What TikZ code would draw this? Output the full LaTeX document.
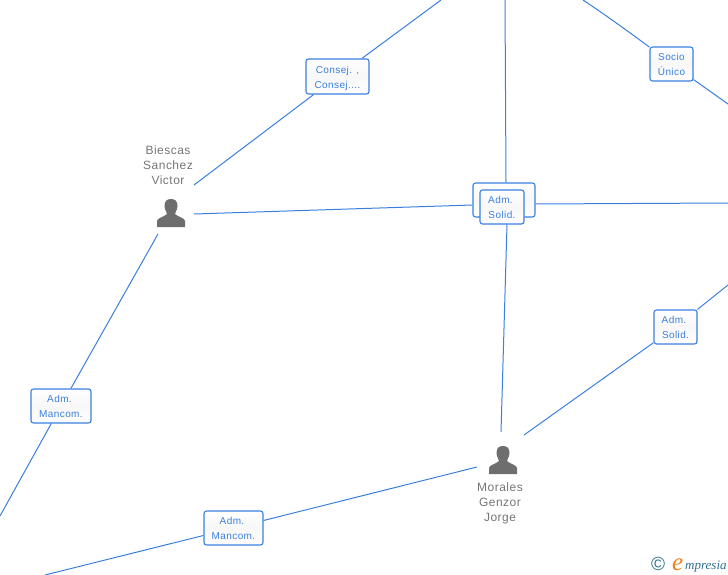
\documentclass[tikz,border=0pt]{standalone}
\usepackage{fontspec}
\setmainfont{Liberation Sans}[LetterSpace=4]
\newfontfamily\logofont{Liberation Serif}[Ligatures=NoCommon]
\definecolor{linkblue}{HTML}{3A7FE0}
\definecolor{namegray}{HTML}{757575}
\definecolor{icongray}{HTML}{6E6E6E}
\definecolor{logoteal}{HTML}{2F6F8F}
\definecolor{logoorange}{HTML}{F0801E}
\tikzset{
	link/.style={draw=linkblue,line width=1pt},
	rolebox/.style={draw=linkblue,line width=1.1pt,rounded corners=2.5pt,top color=white,bottom color=white,middle color=black!3,text=linkblue,align=center,inner sep=0pt,font=\fontsize{10}{15}\selectfont},
	personname/.style={text=namegray,align=center,inner sep=0pt,font=\fontsize{12}{15}\selectfont},
	person/.pic={
		\fill[icongray] (-14,14)--(-14,8) .. controls (-14,5) and (-7,4) .. (-4,1)
		.. controls (-4,-1) and (-6.5,-3) .. (-6.5,-7) .. controls (-6.5,-12) and (-4,-14) .. (0,-14)
		.. controls (4,-14) and (6.5,-12) .. (6.5,-7) .. controls (6.5,-3) and (4,-1) .. (4,1)
		.. controls (7,4) and (14,5) .. (14,8)--(14,14)--cycle;
	}
}
\def\adm{Adm.\kern3pt}
\begin{document}
\begin{tikzpicture}[x=1pt,y=-1pt,line join=round]
	\useasboundingbox (0,0) rectangle (728,575);
	% free ends
	\coordinate (topA) at (441,0);
	\coordinate (topB) at (505,0);
	\coordinate (topC) at (583,0);
	\coordinate (rightA) at (728,104);
	\coordinate (rightB) at (728,203);
	\coordinate (rightC) at (728,285);
	\coordinate (leftA) at (0,516);
	\coordinate (bottomA) at (45,575);
	\coordinate (biescasNE) at (194,185);
	\coordinate (biescasE) at (194,214);
	\coordinate (biescasS) at (158,234);
	\coordinate (moralesN) at (501,432);
	\coordinate (moralesNE) at (524,435);
	\coordinate (moralesW) at (477,467);
	% persons
	\pic at (171,213) {person};
	\pic at (503,460) {person};
	\node[personname] (biescas) at (168,165) {Biescas\\Sanchez\\Victor};
	\node[personname] (morales) at (500,503) {Morales\\Genzor\\Jorge};
	% roles
	\node[rolebox,minimum width=63pt,minimum height=35pt,text depth=0pt] (consej) at (337.5,76.5) {\rule{0pt}{9.5pt}Consej. ,\\Consej....};
	\node[rolebox,minimum width=43pt,minimum height=34pt] (socio) at (671.5,64) {Socio\\Único};
	\node[rolebox,minimum width=62pt,minimum height=34pt] (solidback) at (504,200) {};
	\node[rolebox,minimum width=44pt,minimum height=34pt] (solidfront) at (502,207) {\adm\\Solid.};
	\node[rolebox,minimum width=43pt,minimum height=34pt] (solidright) at (675.5,327) {\adm\\Solid.};
	\node[rolebox,minimum width=60pt,minimum height=34pt] (mancomleft) at (61,406) {\adm\\Mancom.};
	\node[rolebox,minimum width=59pt,minimum height=34pt] (mancombottom) at (233.5,528) {\adm\\Mancom.};
	% connectors
	\draw[link] (topA)--(consej) (consej)--(biescasNE);
	\draw[link] (topB)--([xshift=2pt]solidback.north);
	\draw[link] ([xshift=5pt]solidfront.south)--(moralesN);
	\draw[link] (topC)..controls (610,18) and (640,40)..(socio) (socio)--(rightA);
	\draw[link] (biescasE)--([yshift=-5pt]solidback.west) ([yshift=-4pt]solidback.east)--(rightB);
	\draw[link] (biescasS)--(mancomleft) (mancomleft)--(leftA);
	\draw[link] (moralesW)--(mancombottom) (mancombottom)--(bottomA);
	\draw[link] (moralesNE)--(solidright) (solidright)--(rightC);
	% logo
	\node[inner sep=0pt,text=logoteal,font=\fontsize{19}{19}\selectfont] (copyr) at (658,564) {©};
	\node[inner sep=0pt,anchor=base west,text=logoorange,font=\logofont\itshape\fontsize{25}{25}\selectfont] (logoe) at (672,570) {e};
	\node[inner sep=0pt,anchor=base west,text=logoteal,font=\logofont\itshape\fontsize{13}{13}\selectfont] (logotext) at (685,569) {mpresia};
\end{tikzpicture}
\end{document}
